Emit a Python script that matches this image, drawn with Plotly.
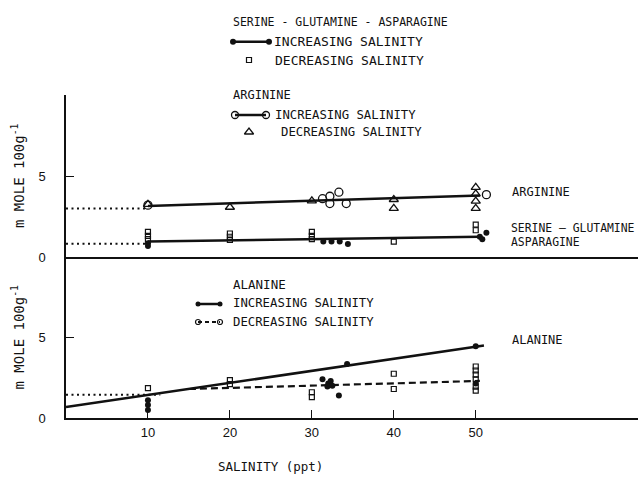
import plotly.graph_objects as go

# ---------------- data ----------------
# upper panel: arginine
arg_inc_x = [10, 31.3, 32.2, 33.3, 32.2, 34.2, 51.3]
arg_inc_y = [3.2, 3.6, 3.75, 4.0, 3.3, 3.3, 3.85]
arg_dec_x = [10, 20, 30, 40, 40, 50, 50, 50, 50]
arg_dec_y = [3.25, 3.07, 3.47, 3.55, 3.0, 4.3, 3.9, 3.45, 3.0]
arg_fit_x = [10, 50.5]
arg_fit_y = [3.15, 3.8]
arg_ext_x = [0, 10]
arg_ext_y = [3.0, 3.0]

# upper panel: serine - glutamine - asparagine
ser_inc_x = [10, 10, 31.4, 32.4, 33.4, 34.4, 50.5, 51.3, 50.8]
ser_inc_y = [0.85, 0.68, 0.95, 0.95, 0.95, 0.8, 1.25, 1.5, 1.1]
ser_dec_x = [10, 10, 10, 20, 20, 20, 30, 30, 30, 40, 50, 50]
ser_dec_y = [1.55, 1.3, 1.1, 1.45, 1.25, 1.05, 1.55, 1.3, 1.1, 0.95, 2.0, 1.65]
ser_fit_x = [10, 50.5]
ser_fit_y = [0.95, 1.25]
ser_ext_x = [0, 10]
ser_ext_y = [0.82, 0.82]

# lower panel: alanine
ala_inc_x = [10, 10, 10, 31.3, 32.0, 32.3, 31.9, 32.5, 33.3, 34.3, 50, 50]
ala_inc_y = [1.1, 0.8, 0.5, 2.4, 2.15, 2.3, 1.95, 2.0, 1.4, 3.35, 4.45, 2.15]
ala_dec_x = [10, 20, 20, 30, 30, 40, 40, 50, 50, 50, 50, 50, 50]
ala_dec_y = [1.85, 2.35, 2.1, 1.6, 1.3, 2.75, 1.8, 3.2, 2.95, 2.7, 2.4, 1.95, 1.7]
ala_inc_fit_x = [0, 51]
ala_inc_fit_y = [0.68, 4.5]
ala_dec_fit_x = [15, 50.5]
ala_dec_fit_y = [1.8, 2.3]
ala_ext_x = [0, 11.5]
ala_ext_y = [1.45, 1.45]

x_ticks = [10, 20, 30, 40, 50]
x_ticktext = ["10", "20", "30", "40", "50"]
y_ticks = [0, 5]
y_ticktext = ["0", "5"]

# ---------------- styling ----------------
W, H = 638, 484
INK = "#111111"
FONT = "DejaVu Sans Mono"
L_PX, T_PX, MID_PX, B_PX = 66, 95, 257, 418

def PX(px):
    return px / W

def PY(py):
    return 1 - py / H

DOT = "2px,3.5px"
DASH = "7px,4px"

fig = go.Figure()

def add(x, y, xa, ya, mode, marker=None, line=None):
    fig.add_trace(go.Scatter(x=x, y=y, xaxis=xa, yaxis=ya, mode=mode,
                             marker=marker, line=line, showlegend=False,
                             hoverinfo="skip", cliponaxis=False))

open_circle = dict(symbol="circle-open", size=8, color=INK, line=dict(width=1.3, color=INK))
tri = dict(symbol="triangle-up-open", size=8, color=INK, line=dict(width=1.3, color=INK))
sq = dict(symbol="square-open", size=5, color=INK, line=dict(width=1.2, color=INK))
dot = dict(symbol="circle", size=6, color=INK)

# upper panel
add(arg_ext_x, arg_ext_y, "x2", "y2", "lines", line=dict(color=INK, width=2, dash=DOT))
add(arg_fit_x, arg_fit_y, "x2", "y2", "lines", line=dict(color=INK, width=2.5))
add(arg_dec_x, arg_dec_y, "x2", "y2", "markers", marker=tri)
add(arg_inc_x, arg_inc_y, "x2", "y2", "markers", marker=open_circle)
add(ser_ext_x, ser_ext_y, "x2", "y2", "lines", line=dict(color=INK, width=2, dash=DOT))
add(ser_fit_x, ser_fit_y, "x2", "y2", "lines", line=dict(color=INK, width=2.5))
add(ser_dec_x, ser_dec_y, "x2", "y2", "markers", marker=sq)
add(ser_inc_x, ser_inc_y, "x2", "y2", "markers", marker=dot)

# lower panel
add(ala_ext_x, ala_ext_y, "x", "y", "lines", line=dict(color=INK, width=2, dash=DOT))
add(ala_inc_fit_x, ala_inc_fit_y, "x", "y", "lines", line=dict(color=INK, width=2.5))
add(ala_dec_fit_x, ala_dec_fit_y, "x", "y", "lines", line=dict(color=INK, width=2.2, dash=DASH))
add(ala_dec_x, ala_dec_y, "x", "y", "markers", marker=sq)
add(ala_inc_x, ala_inc_y, "x", "y", "markers", marker=dot)

# legend glyphs on a pixel overlay axis
add([233, 269], [41.7, 41.7], "x3", "y3", "lines+markers",
    marker=dict(symbol="circle", size=6, color=INK), line=dict(color=INK, width=2.5))
add([249], [60], "x3", "y3", "markers", marker=sq)
add([235, 266], [115, 115], "x3", "y3", "lines+markers",
    marker=dict(symbol="circle-open", size=7, color=INK, line=dict(width=1.3, color=INK)),
    line=dict(color=INK, width=2.5))
add([249], [132], "x3", "y3", "markers", marker=tri)
add([198, 220], [304, 304], "x3", "y3", "lines+markers",
    marker=dict(symbol="circle", size=5, color=INK), line=dict(color=INK, width=2.5))
add([198, 220], [322, 322], "x3", "y3", "lines+markers",
    marker=dict(symbol="circle-open", size=5, color=INK, line=dict(width=1.2, color=INK)),
    line=dict(color=INK, width=1.8, dash="4px,3px"))

tickfont = dict(family="Liberation Sans", size=13, color=INK)
xdom = [PX(L_PX), 1]
ydom_low = [PY(B_PX), PY(MID_PX)]
ydom_up = [PY(MID_PX), PY(T_PX)]

common_y = dict(range=[0, 10], showline=True, linecolor=INK, linewidth=1.5,
                ticks="inside", ticklen=8, tickwidth=1.2, tickcolor=INK,
                tickvals=y_ticks, ticktext=y_ticktext, tickfont=tickfont,
                showgrid=False, zeroline=False, automargin=False,
                ticklabelstandoff=16, fixedrange=True)

fig.update_layout(
    width=W, height=H,
    margin=dict(l=0, r=0, t=0, b=0),
    paper_bgcolor="white", plot_bgcolor="rgba(0,0,0,0)",
    template="none",
    showlegend=False,
    xaxis=dict(domain=xdom, range=[0, 69.8], anchor="y", showline=True,
               linecolor=INK, linewidth=1.5, ticks="inside", ticklen=8,
               tickwidth=1.2, tickcolor=INK, tickvals=x_ticks, ticktext=x_ticktext,
               tickfont=tickfont, showgrid=False, zeroline=False,
               automargin=False, ticklabelstandoff=2, fixedrange=True),
    xaxis2=dict(domain=xdom, range=[0, 69.8], anchor="y2", showline=True,
                linecolor=INK, linewidth=1.5, ticks="", showticklabels=False,
                showgrid=False, zeroline=False, automargin=False, fixedrange=True),
    yaxis=dict(domain=ydom_low, anchor="x", **common_y),
    yaxis2=dict(domain=ydom_up, anchor="x2", **common_y),
    xaxis3=dict(domain=[0, 1], range=[0, W], anchor="y3", visible=False, fixedrange=True),
    yaxis3=dict(domain=[0, 1], range=[H, 0], anchor="x3", visible=False, fixedrange=True),
)

def text(s, px, py, size=12, anchor="left", angle=0):
    fig.add_annotation(text=s, x=PX(px), y=PY(py), xref="paper", yref="paper",
                       xanchor=anchor, yanchor="middle", showarrow=False,
                       textangle=angle, font=dict(family=FONT, size=size, color=INK))

text("SERINE - GLUTAMINE - ASPARAGINE", 231, 21.7, 11.5)
text("INCREASING SALINITY", 272, 41.7, 13)
text("DECREASING SALINITY", 272.5, 60, 13)
text("ARGININE", 231, 95, 12)
text("INCREASING SALINITY", 272.5, 115, 12.3)
text("DECREASING SALINITY", 279, 132, 12.3)

text("ARGININE", 510, 191.7, 12)
text("SERINE – GLUTAMINE", 509, 227.7, 11.4)
text("ASPARAGINE", 509, 241.7, 11.4)

text("ALANINE", 231, 284, 12.5)
text("INCREASING SALINITY", 231, 303, 12.3)
text("DECREASING SALINITY", 231, 322, 12.3)
text("ALANINE", 510, 340, 12)

text("m MOLE 100g<sup>-1</sup>", 18, (T_PX + MID_PX) / 2, 14, anchor="center", angle=-90)
text("m MOLE 100g<sup>-1</sup>", 18, (MID_PX + B_PX) / 2, 14, anchor="center", angle=-90)
text("SALINITY (ppt)", 270, 466, 12.5, anchor="center")

fig.write_html("out.html")
